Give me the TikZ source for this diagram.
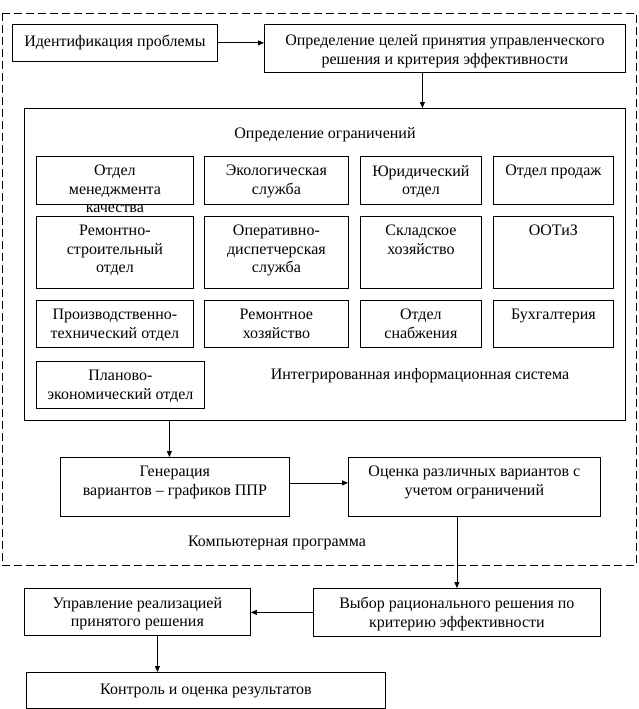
\documentclass[tikz,border=0pt]{standalone}
\usepackage{fontspec}
\setmainfont{Liberation Serif}
\usetikzlibrary{arrows.meta}
\tikzset{
  box/.style={draw, line width=0.8pt, inner sep=0pt, anchor=north west},
  txt/.style={font=\fontsize{16}{18.5}\selectfont, align=center, inner sep=0pt},
  toptxt/.style={txt, anchor=north, yshift=-9pt},
  arr/.style={line width=0.8pt, -{Triangle[length=6pt,width=5pt]}},
  dashedframe/.style={draw, line width=0.8pt, dash pattern=on 8pt off 4pt}
}
\begin{document}
\begin{tikzpicture}[x=1pt,y=-1pt]
\useasboundingbox (0,0) rectangle (638,709);
% outer dashed frame
\draw[dashedframe] (2,13) rectangle (636,565);
% top boxes
\node[box, minimum width=205pt, minimum height=37pt] (ident) at (12,24) {};
\node[txt] (identT) at (ident.center) {Идентификация проблемы};
\node[box, minimum width=361pt, minimum height=48pt] (goals) at (264,24) {};
\node[txt] (goalsT) at ([yshift=-3pt]goals.center) {Определение целей принятия управленческого\\решения и критерия эффективности};
% inner box
\node[box, minimum width=601pt, minimum height=312pt] (inner) at (24,108) {};
\node[txt] (limT) at (325,135) {Определение ограничений};
% row 1
\node[box, minimum width=157pt, minimum height=48pt] (a1) at (36,156) {};
\node[toptxt] (a1T) at (a1.north) {Отдел\\менеджмента\\качества};
\node[box, minimum width=144pt, minimum height=48pt] (b1) at (204,156) {};
\node[toptxt] (b1T) at (b1.north) {Экологическая\\служба};
\node[box, minimum width=121pt, minimum height=48pt] (c1) at (360,156) {};
\node[toptxt] (c1T) at (c1.north) {Юридический\\отдел};
\node[box, minimum width=120pt, minimum height=48pt] (d1) at (493,156) {};
\node[toptxt] (d1T) at (d1.north) {Отдел продаж};
% row 2
\node[box, minimum width=157pt, minimum height=72pt] (a2) at (36,216) {};
\node[toptxt] (a2T) at (a2.north) {Ремонтно-\\строительный\\отдел};
\node[box, minimum width=144pt, minimum height=72pt] (b2) at (204,216) {};
\node[toptxt] (b2T) at (b2.north) {Оперативно-\\диспетчерская\\служба};
\node[box, minimum width=121pt, minimum height=72pt] (c2) at (360,216) {};
\node[toptxt] (c2T) at (c2.north) {Складское\\хозяйство};
\node[box, minimum width=120pt, minimum height=72pt] (d2) at (493,216) {};
\node[toptxt] (d2T) at (d2.north) {ООТиЗ};
% row 3
\node[box, minimum width=157pt, minimum height=47pt] (a3) at (36,300) {};
\node[toptxt] (a3T) at (a3.north) {Производственно-\\технический отдел};
\node[box, minimum width=144pt, minimum height=47pt] (b3) at (204,300) {};
\node[toptxt] (b3T) at (b3.north) {Ремонтное\\хозяйство};
\node[box, minimum width=121pt, minimum height=47pt] (c3) at (360,300) {};
\node[toptxt] (c3T) at (c3.north) {Отдел\\снабжения};
\node[box, minimum width=120pt, minimum height=47pt] (d3) at (493,300) {};
\node[toptxt] (d3T) at (d3.north) {Бухгалтерия};
% row 4
\node[box, minimum width=168pt, minimum height=47pt] (plan) at (36,361) {};
\node[toptxt] (planT) at (plan.north) {Планово-\\экономический отдел};
\node[txt] (iisT) at (420,376) {Интегрированная информационная система};
% generation / evaluation
\node[box, minimum width=229pt, minimum height=59pt] (gen) at (60,457) {};
\node[toptxt] (genT) at (gen.north) {Генерация\\вариантов -- графиков ППР};
\node[box, minimum width=252pt, minimum height=59pt] (eval) at (348,457) {};
\node[toptxt] (evalT) at (eval.north) {Оценка различных вариантов с\\учетом ограничений};
\node[txt] (progT) at (277,543) {Компьютерная программа};
% bottom
\node[box, minimum width=287pt, minimum height=48pt] (choose) at (313,588) {};
\node[toptxt] (chooseT) at (choose.north) {Выбор рационального решения по\\критерию эффективности};
\node[box, minimum width=226pt, minimum height=47pt] (manage) at (24,588) {};
\node[toptxt] (manageT) at (manage.north) {Управление реализацией\\принятого решения};
\node[box, minimum width=359pt, minimum height=36pt] (control) at (26,672) {};
\node[txt] (controlT) at ([yshift=-1pt]control.center) {Контроль и оценка результатов};
% connectors
\draw[arr] (ident.east) -- (ident.east -| goals.west);
\draw[arr] ([xshift=-22.5pt]goals.south) -- ([xshift=-22.5pt]goals.south |- inner.north);
\draw[arr] ([xshift=-5.5pt]gen.north |- inner.south) -- ([xshift=-5.5pt]gen.north);
\draw[arr] ([yshift=4pt]gen.east) -- ([yshift=4pt]gen.east -| eval.west);
\draw[arr] (choose.north |- eval.south) -- (choose.north);
\draw[arr] (choose.west) -- (choose.west -| manage.east);
\draw[arr] ([xshift=20pt]manage.south) -- ([xshift=20pt]manage.south |- control.north);
\end{tikzpicture}
\end{document}
